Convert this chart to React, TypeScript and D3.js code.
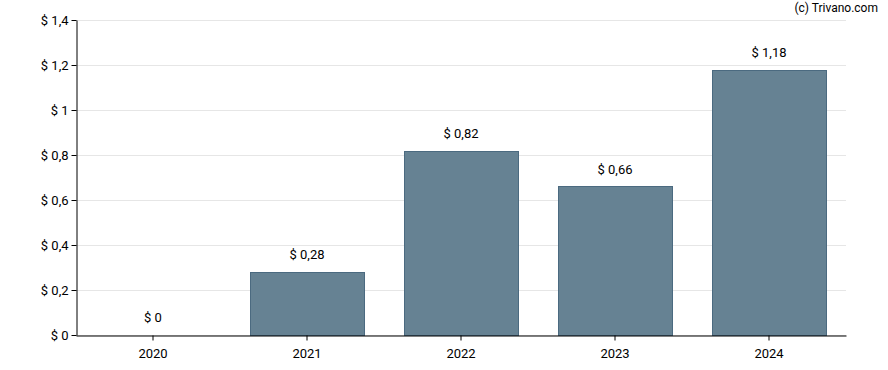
import React, { useEffect, useRef } from 'react';
import * as d3 from 'd3';

const years = ['2020', '2021', '2022', '2023', '2024'];
const values = [0, 0.28, 0.82, 0.66, 1.18];
const yTicks = [0, 0.2, 0.4, 0.6, 0.8, 1, 1.2, 1.4];

const fmt = (v: number) => '$ ' + String(v).replace('.', ',');

const App: React.FC = () => {
  const svgRef = useRef<SVGSVGElement>(null);

  useEffect(() => {
    if (!svgRef.current) return;
    const svg = d3.select(svgRef.current);
    svg.selectAll('*').remove();

    const margin = { top: 20, right: 42, bottom: 35, left: 76 };
    const width = 888;
    const height = 370;

    const x = d3.scaleBand<string>()
      .domain(years)
      .range([margin.left, width - margin.right])
      .paddingInner(0.25)
      .paddingOuter(0.125);

    const y = d3.scaleLinear()
      .domain([0, 1.4])
      .range([height - margin.bottom, margin.top]);

    const barW = Math.round(x.bandwidth()) - 2;

    // gridlines
    svg.append('g')
      .selectAll('line')
      .data(yTicks)
      .enter().append('line')
      .attr('x1', margin.left)
      .attr('x2', width - margin.right)
      .attr('y1', d => Math.round(y(d)) + 0.5)
      .attr('y2', d => Math.round(y(d)) + 0.5)
      .style('stroke', '#e6e6e6')
      .style('stroke-width', 1);

    // bars
    svg.append('g')
      .selectAll('rect')
      .data(values)
      .enter().append('rect')
      .attr('x', (_d, i) => Math.floor(x(years[i])! + x.bandwidth() / 2 - barW / 2) + 0.5)
      .attr('y', d => Math.round(y(d)) + 0.5)
      .attr('width', barW)
      .attr('height', d => y(0) - Math.round(y(d)))
      .style('fill', '#668293')
      .style('stroke', '#4b6a80')
      .style('stroke-width', 1)
      .style('display', d => d > 0 ? null : 'none');

    // value labels
    svg.append('g')
      .selectAll('text')
      .data(values)
      .enter().append('text')
      .attr('x', (_d, i) => x(years[i])! + x.bandwidth() / 2)
      .attr('y', d => y(d) - 13)
      .style('text-anchor', 'middle')
      .style('font-family', 'Roboto, sans-serif')
      .style('font-size', '13px')
      .style('fill', '#000')
      .text(d => fmt(d));

    // y axis
    const yAxis = d3.axisLeft(y)
      .tickValues(yTicks)
      .tickSize(5)
      .tickSizeOuter(0)
      .tickFormat(d => fmt(d as number));
    const gy = svg.append('g')
      .attr('transform', `translate(${margin.left + 0.5},0)`)
      .call(yAxis);
    gy.selectAll('text')
      .style('font-family', 'Roboto, sans-serif')
      .style('font-size', '13px')
      .style('fill', '#000');
    gy.selectAll('line, path').style('stroke', '#000');

    // x axis
    const xAxis = d3.axisBottom(x).tickSize(5).tickSizeOuter(0);
    const gx = svg.append('g')
      .attr('transform', `translate(0,${y(0) + 0.5})`)
      .call(xAxis);
    gx.selectAll('text')
      .attr('dy', '1.15em')
      .style('font-family', 'Roboto, sans-serif')
      .style('font-size', '13px')
      .style('fill', '#000');
    gx.selectAll('line, path').style('stroke', '#000');

    // copyright
    svg.append('text')
      .attr('x', 878)
      .attr('y', 12)
      .style('text-anchor', 'end')
      .style('font-family', 'Roboto, sans-serif')
      .style('font-size', '12px')
      .style('fill', '#000')
      .text('(c) Trivano.com');
  }, []);

  return (
    <svg
      ref={svgRef}
      width={888}
      height={370}
      style={{ position: 'absolute', left: 0, top: 0, background: '#fff' }}
    />
  );
};

export default App;
